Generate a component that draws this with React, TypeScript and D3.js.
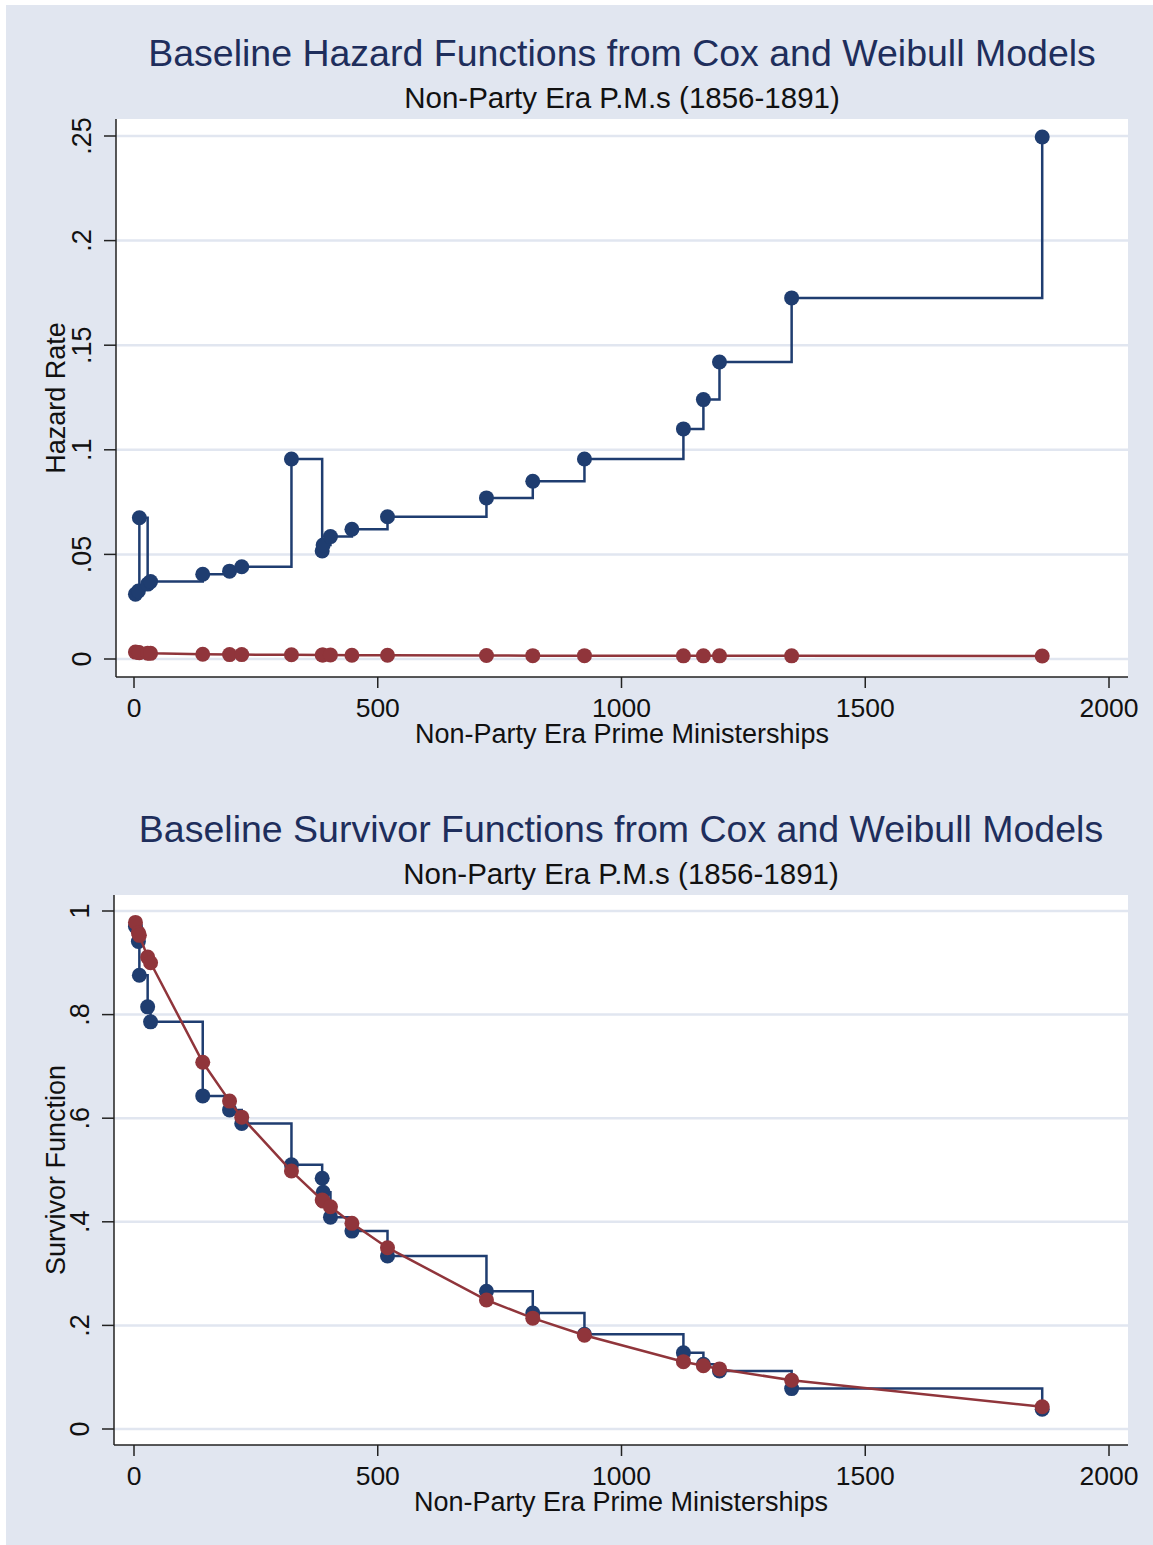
import { scaleLinear, line, curveStepAfter, curveLinear } from 'd3';

// durations (days) of non-party era prime ministerships
const times = [3, 9, 11, 28, 34, 141, 196, 221, 323, 386, 388, 403, 447, 520, 723, 818, 924, 1127, 1168, 1201, 1349, 1863];

// baseline hazards
const coxHazard = [0.031, 0.0325, 0.0675, 0.0358, 0.037, 0.0405, 0.042, 0.0441, 0.0956, 0.0516, 0.0545, 0.0585, 0.062, 0.068, 0.077, 0.085, 0.0956, 0.110, 0.124, 0.142, 0.1726, 0.2495];
const weibullHazard = [0.0033, 0.0031, 0.003, 0.0028, 0.0027, 0.0023, 0.0021, 0.0021, 0.002, 0.0019, 0.0019, 0.0019, 0.0018, 0.0018, 0.0017, 0.0016, 0.0016, 0.0015, 0.0015, 0.0015, 0.0015, 0.0014];

// baseline survivor functions
const coxSurvivor = [0.97, 0.941, 0.876, 0.815, 0.786, 0.643, 0.616, 0.59, 0.51, 0.484, 0.457, 0.409, 0.382, 0.334, 0.266, 0.224, 0.183, 0.147, 0.125, 0.112, 0.078, 0.038];
const weibullSurvivor = [0.978, 0.958, 0.953, 0.911, 0.9, 0.708, 0.633, 0.602, 0.498, 0.442, 0.44, 0.429, 0.397, 0.35, 0.249, 0.214, 0.181, 0.13, 0.122, 0.116, 0.094, 0.043];

const xTicks = [0, 500, 1000, 1500, 2000];
const hazardTicks = [0, 0.05, 0.1, 0.15, 0.2, 0.25];
const survivorTicks = [0, 0.2, 0.4, 0.6, 0.8, 1];

const subtitle = 'Non-Party Era P.M.s (1856-1891)';
const xTitle = 'Non-Party Era Prime Ministerships';

const BG = '#e1e6f0';
const NAVY = '#1f3d70';
const MAROON = '#90353b';
const FONT = '"Liberation Sans", Arial, sans-serif';

const fmt = (v) => (v === 0 ? '0' : v === 1 ? '1' : String(v).replace(/^0/, ''));

function Panel({ title, yTitle, yTicks, yDomain, cox, weibull, plot, yRange }) {
  const x = scaleLinear().domain([0, 2000]).range([134, 1109]);
  const y = scaleLinear().domain(yDomain).range(yRange);

  const coxPts = times.map((t, i) => [t, cox[i]]);
  const wbPts = times.map((t, i) => [t, weibull[i]]);

  const stepLine = line()
    .x((d) => x(d[0]))
    .y((d) => y(d[1]))
    .curve(curveStepAfter);
  const straight = line()
    .x((d) => x(d[0]))
    .y((d) => y(d[1]))
    .curve(curveLinear);

  const midX = (plot.left + plot.right) / 2;
  const midY = (plot.top + plot.bottom) / 2;

  return (
    <g fontFamily={FONT}>
      <text x={midX} y={plot.top - 53} textAnchor="middle" fontSize={37.5} fill="#1e2e5c">
        {title}
      </text>
      <text x={midX} y={plot.top - 11.5} textAnchor="middle" fontSize={29.5} fill="#111">
        {subtitle}
      </text>

      <rect x={plot.left} y={plot.top} width={plot.right - plot.left} height={plot.bottom - plot.top} fill="#fff" />

      {/* gridlines */}
      {yTicks.map((t) => (
        <line key={'g' + t} x1={plot.left} x2={plot.right} y1={y(t)} y2={y(t)} stroke={BG} strokeWidth={2.5} />
      ))}

      {/* axes */}
      <line x1={plot.left} x2={plot.left} y1={plot.top} y2={plot.bottom} stroke="#222" strokeWidth={1.5} />
      <line x1={plot.left} x2={plot.right} y1={plot.bottom} y2={plot.bottom} stroke="#222" strokeWidth={1.5} />

      {yTicks.map((t) => (
        <g key={'y' + t}>
          <line x1={plot.left - 12} x2={plot.left} y1={y(t)} y2={y(t)} stroke="#222" strokeWidth={1.5} />
          <text transform={`translate(${plot.left - 25},${y(t)}) rotate(-90)`} textAnchor="middle" fontSize={27} fill="#111">
            {fmt(t)}
          </text>
        </g>
      ))}
      {xTicks.map((t) => (
        <g key={'x' + t}>
          <line x1={x(t)} x2={x(t)} y1={plot.bottom} y2={plot.bottom + 11} stroke="#222" strokeWidth={1.5} />
          <text x={x(t)} y={plot.bottom + 40} textAnchor="middle" fontSize={26.5} fill="#111">
            {t}
          </text>
        </g>
      ))}

      <text x={midX} y={plot.bottom + 66} textAnchor="middle" fontSize={27} fill="#111">
        {xTitle}
      </text>
      <text transform={`translate(65,${midY}) rotate(-90)`} textAnchor="middle" fontSize={27} fill="#111">
        {yTitle}
      </text>

      {/* Cox: step function */}
      <path d={stepLine(coxPts)} fill="none" stroke={NAVY} strokeWidth={2.5} />
      {coxPts.map((d, i) => (
        <circle key={'c' + i} cx={x(d[0])} cy={y(d[1])} r={7.5} fill={NAVY} />
      ))}

      {/* Weibull: connected points */}
      <path d={straight(wbPts)} fill="none" stroke={MAROON} strokeWidth={2.5} />
      {wbPts.map((d, i) => (
        <circle key={'w' + i} cx={x(d[0])} cy={y(d[1])} r={7.5} fill={MAROON} />
      ))}
    </g>
  );
}

export default function App() {
  return (
    <div style={{ position: 'absolute', left: 0, top: 0 }}>
      <svg width={1153} height={1545} style={{ display: 'block' }}>
        <rect x={0} y={0} width={1153} height={1545} fill="#fff" />
        <rect x={6} y={5} width={1147} height={1540} fill={BG} />
        <Panel
          title="Baseline Hazard Functions from Cox and Weibull Models"
          yTitle="Hazard Rate"
          yTicks={hazardTicks}
          yDomain={[0, 0.25]}
          cox={coxHazard}
          weibull={weibullHazard}
          plot={{ left: 116, right: 1128, top: 119, bottom: 677 }}
          yRange={[659, 136]}
        />
        <Panel
          title="Baseline Survivor Functions from Cox and Weibull Models"
          yTitle="Survivor Function"
          yTicks={survivorTicks}
          yDomain={[0, 1]}
          cox={coxSurvivor}
          weibull={weibullSurvivor}
          plot={{ left: 114, right: 1128, top: 895, bottom: 1445 }}
          yRange={[1429, 911]}
        />
      </svg>
    </div>
  );
}
